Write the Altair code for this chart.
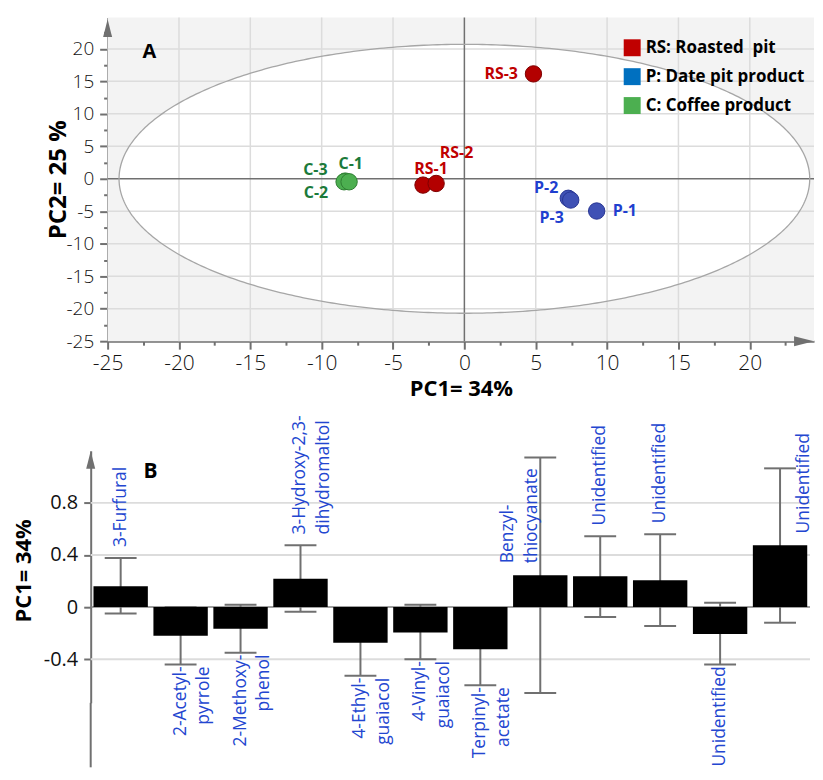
import numpy as np
import pandas as pd
import altair as alt

FONT = "Open Sans"

# ---------------- Panel A : PCA score plot ----------------
samples = ["RS-1", "RS-2", "RS-3", "P-3", "P-1", "P-2", "C-3", "C-2", "C-1"]
groups = ["RS", "RS", "RS", "P", "P", "P", "C", "C", "C"]
pc1_scores = [-2.90, -1.98, 4.84, 7.28, 9.27, 7.45, -8.35, -8.43, -8.08]
pc2_scores = [-0.97, -0.72, 16.15, -3.00, -4.96, -3.27, -0.35, -0.46, -0.46]
label_pc1 = [-2.34, -0.55, 2.58, 6.12, 11.24, 5.73, -10.44, -10.40, -7.96]
label_pc2 = [1.58, 4.00, 16.10, -6.09, -4.95, -1.49, 1.33, -2.25, 2.35]

group_keys = ["RS", "P", "C"]
group_names = ["RS: Roasted\u00a0 pit", "P: Date pit product", "C: Coffee product"]

# Hotelling T2 ellipse semi-axes
ellipse_a = 24.2
ellipse_b = 20.7

x_min, x_max = -25, 24.5
y_min, y_max = -25, 24.85
x_tick_values = list(np.arange(-25, 24, 2.5))
y_tick_values = list(np.arange(-25, 24, 2.5))
x_grid_values = [-20, -15, -10, -5, 5, 10, 15, 20]
y_grid_values = [-20, -15, -10, -5, 5, 10, 15, 20]

# ---------------- Panel B : PC1 loadings ----------------
compounds = [
    "3-Furfural", "2-Acetyl-\npyrrole", "2-Methoxy-\nphenol",
    "3-Hydroxy-2,3-\ndihydromaltol", "4-Ethyl-\nguaiacol", "4-Vinyl-\nguaiacol",
    "Terpinyl-\nacetate", "Benzyl-\nthiocyanate", "Unidentified", "Unidentified",
    "Unidentified", "Unidentified",
]
loadings = [0.16, -0.22, -0.166, 0.217, -0.273, -0.196, -0.324, 0.245, 0.237, 0.206, -0.206, 0.474]
err_low = [-0.05, 0.0, -0.35, -0.036, -0.527, -0.40, -0.60, -0.66, -0.076, -0.145, -0.44, -0.12]
err_high = [0.377, -0.44, 0.018, 0.474, -0.02, 0.018, -0.05, 1.149, 0.543, 0.56, 0.033, 1.065]
b_tick_values = [-0.4, 0, 0.4, 0.8]
b_grid_values = [-0.4, 0.4, 0.8]

# ---------------- styles ----------------
legend_colors = ["#c00000", "#0070c0", "#4caf50"]
point_fill = {"RS": "#b30000", "P": "#3f51b5", "C": "#4caf50"}
point_stroke = {"RS": "#7d0000", "P": "#283593", "C": "#2e7d32"}
label_color = {"RS": "#c00000", "P": "#1f3fcf", "C": "#1b7a3a"}
AX = "#707070"
GRID = "#dcdcdc"
A_INSET = 17          # panel A's y axis sits 17 px right of panel B's
A_WIDTH = 726

dfA = pd.DataFrame({"sample": samples, "group": groups, "x": pc1_scores, "y": pc2_scores,
                    "lx": label_pc1, "ly": label_pc2})
dfA["gname"] = dfA["group"].map(dict(zip(group_keys, group_names)))
dfA["fill_c"] = dfA["group"].map(point_fill)
dfA["stroke_c"] = dfA["group"].map(point_stroke)
dfA["label_c"] = dfA["group"].map(label_color)

t = np.linspace(0, np.pi, 241)
ell_fill = pd.DataFrame({"x": ellipse_a * np.cos(t), "y": ellipse_b * np.sin(t)})
ell_fill["y2"] = -ell_fill["y"]
t2 = np.linspace(0, 2 * np.pi, 481)
ell_line = pd.DataFrame({"x": ellipse_a * np.cos(t2), "y": ellipse_b * np.sin(t2), "o": np.arange(481)})

xsA = alt.Scale(domain=[x_min, x_max], range=[A_INSET, A_WIDTH], nice=False, zero=False)
ysA = alt.Scale(domain=[y_min, y_max], nice=False, zero=False)
tick_cond = {"condition": {"test": "datum.value % 5 === 0", "value": 8}, "value": 4}
lab_expr = "datum.value % 5 === 0 ? '' + datum.value : ''"

axA_x = alt.Axis(values=x_tick_values, labelExpr=lab_expr, grid=False, domainColor=AX, domainWidth=2,
                 tickColor=AX, tickWidth=2, tickSize=tick_cond, labelFont=FONT, labelFontSize=21,
                 labelFontWeight=300, labelColor="#111111", labelPadding=3, labelFlush=False,
                 labelOverlap=False, titleFont=FONT, titleFontSize=22, titleFontWeight="bold",
                 titleColor="black", titlePadding=6)
axA_y = alt.Axis(values=y_tick_values, labelExpr=lab_expr, grid=False, domainColor=AX, domainWidth=2,
                 tickColor=AX, tickWidth=2, tickSize=tick_cond, labelFont=FONT, labelFontSize=19,
                 labelFontWeight=300, labelColor="#111111", labelPadding=6, labelFlush=False,
                 labelOverlap=False, titleFont=FONT, titleFontSize=24, titleFontWeight="bold",
                 titleColor="black", titleX=-37, offset=-A_INSET)


def XA(f):
    return alt.X(f, scale=xsA, axis=axA_x, title="PC1= 34%")


def YA(f):
    return alt.Y(f, scale=ysA, axis=axA_y, title="PC2= 25 %")


backA = alt.Chart(pd.DataFrame({"x": [x_min], "x2": [x_max], "y": [y_min], "y2": [y_max]})).mark_rect(
    color="#f3f3f3").encode(x=XA("x:Q"), x2="x2:Q", y=YA("y:Q"), y2="y2:Q")
ell_area = alt.Chart(ell_fill).mark_area(color="white", opacity=1).encode(
    x=XA("x:Q"), y=YA("y:Q"), y2="y2:Q")
vgrid = alt.Chart(pd.DataFrame({"x": x_grid_values})).mark_rule(color=GRID, strokeWidth=1.5).encode(x=XA("x:Q"))
hgrid = alt.Chart(pd.DataFrame({"y": y_grid_values, "x": x_min, "x2": x_max})).mark_rule(
    color=GRID, strokeWidth=1.5).encode(y=YA("y:Q"), x=XA("x:Q"), x2="x2:Q")
vzero = alt.Chart(pd.DataFrame({"x": [0]})).mark_rule(color=AX, strokeWidth=1.5).encode(x=XA("x:Q"))
hzero = alt.Chart(pd.DataFrame({"y": [0], "x": [x_min], "x2": [x_max]})).mark_rule(
    color=AX, strokeWidth=1.5).encode(y=YA("y:Q"), x=XA("x:Q"), x2="x2:Q")
ell_outline = alt.Chart(ell_line).mark_line(color="#a6a6a6", strokeWidth=1.3).encode(
    x=XA("x:Q"), y=YA("y:Q"), order="o:Q")

legend_layer = alt.Chart(dfA).mark_square(opacity=0).encode(
    x=XA("x:Q"), y=YA("y:Q"),
    color=alt.Color("gname:N", scale=alt.Scale(domain=group_names, range=legend_colors),
                    legend=alt.Legend(title=None, orient="none", legendX=535, legendY=22,
                                      symbolType="square", symbolSize=289, symbolOpacity=1,
                                      symbolStrokeWidth=0, labelFont=FONT, labelFontSize=17,
                                      labelFontWeight="bold", labelColor="black", rowPadding=11,
                                      labelOffset=5, padding=0)))
points = alt.Chart(dfA).mark_circle(size=270, opacity=1, strokeWidth=1).encode(
    x=XA("x:Q"), y=YA("y:Q"),
    fill=alt.Fill("fill_c:N", scale=None), stroke=alt.Stroke("stroke_c:N", scale=None))
point_labels = alt.Chart(dfA).mark_text(font=FONT, fontSize=16, fontWeight="bold").encode(
    x=XA("lx:Q"), y=YA("ly:Q"), text="sample:N", color=alt.Color("label_c:N", scale=None))

arrow_up = "M0,-1 L0.5,1 L-0.5,1 Z"
arrow_right = "M1,0 L-1,0.5 L-1,-0.5 Z"
y_arrow = alt.Chart(pd.DataFrame({"x": [x_min], "y": [23.2]})).mark_point(
    shape=arrow_up, filled=True, size=324, color=AX, opacity=1).encode(x=XA("x:Q"), y=YA("y:Q"))
x_arrow = alt.Chart(pd.DataFrame({"x": [23.8], "y": [y_min]})).mark_point(
    shape=arrow_right, filled=True, size=400, color=AX, opacity=1).encode(x=XA("x:Q"), y=YA("y:Q"))
tag_a = alt.Chart(pd.DataFrame({"x": [-22.07], "y": [19.5], "t": ["A"]})).mark_text(
    font=FONT, fontSize=20, fontWeight="bold", color="black").encode(x=XA("x:Q"), y=YA("y:Q"), text="t:N")

panelA = alt.layer(backA, ell_area, vgrid, hgrid, vzero, hzero, ell_outline, legend_layer, points,
                   point_labels, y_arrow, x_arrow, tag_a).properties(
    width=A_WIDTH, height=325, view=alt.ViewBackground(stroke=None))

# ---------------- Panel B ----------------
dfB = pd.DataFrame({"idx": np.arange(len(compounds)), "name": compounds, "value": loadings,
                    "lo": err_low, "hi": err_high})
dfB["lo"], dfB["hi"] = np.minimum(dfB["lo"], dfB["hi"]), np.maximum(dfB["lo"], dfB["hi"])

xsB = alt.Scale(paddingInner=0.093, paddingOuter=0.0465)
ysB = alt.Scale(domain=[-0.735, 1.2], nice=False, zero=False)
axB_y = alt.Axis(values=b_tick_values,
                 labelExpr="datum.value === 0 ? '0' : (datum.value < 0 ? '-' : '') + format(abs(datum.value), '.1f')",
                 grid=False, domainColor=AX, domainWidth=2, tickColor=AX, tickWidth=2, tickSize=7,
                 labelFont=FONT, labelFontSize=20, labelColor="#111111", labelPadding=6,
                 titleFont=FONT, titleFontSize=22, titleFontWeight="bold", titleColor="black",
                 titleX=-55, titleY=120)


def XB(f="idx:O"):
    return alt.X(f, scale=xsB, axis=None)


def YB(f):
    return alt.Y(f, scale=ysB, axis=axB_y, title="PC1= 34%")


baseB = alt.Chart(dfB)
gridB = alt.Chart(pd.DataFrame({"y": b_grid_values})).mark_rule(color=GRID, strokeWidth=2).encode(y=YB("y:Q"))
zeroB = alt.Chart(pd.DataFrame({"y": [0]})).mark_rule(color="#808080", strokeWidth=1.5).encode(y=YB("y:Q"))
err_rule = baseB.mark_rule(color=AX, strokeWidth=2).encode(x=XB(), y=YB("lo:Q"), y2="hi:Q")
cap_lo = baseB.mark_tick(size=32, thickness=2, color=AX, opacity=1).encode(x=XB(), y=YB("lo:Q"))
cap_hi = baseB.mark_tick(size=32, thickness=2, color=AX, opacity=1).encode(x=XB(), y=YB("hi:Q"))
bars = baseB.mark_bar(color="black").encode(x=XB(), y=YB("value:Q"), y2=alt.datum(0))

LBL = dict(font=FONT, fontSize=17.5, color="#2346d0", angle=270, baseline="middle", lineBreak="\n", lineHeight=24)
lab_pos = baseB.transform_filter("datum.value > 0 && datum.hi < 0.8").mark_text(
    align="left", dx=11, **LBL).encode(x=XB(), y=YB("hi:Q"), text="name:N")
lab_neg = baseB.transform_filter("datum.value < 0").mark_text(
    align="right", dx=-2, **LBL).encode(x=XB(), y=YB("lo:Q"), text="name:N")
SIDE_NUDGE = {7: -32, 11: 24}
lab_side = [baseB.transform_filter(f"datum.idx === {i}").mark_text(
    align="left", dx=12, dy=d, **LBL).encode(x=XB(), y=YB("value:Q"), text="name:N")
    for i, d in SIDE_NUDGE.items()]

b_arrow = alt.Chart(pd.DataFrame({"y": [1.13]})).mark_point(
    shape=arrow_up, filled=True, size=324, color=AX, opacity=1).encode(x=alt.value(0), y=YB("y:Q"))
b_axis_ext = alt.Chart(pd.DataFrame({"y": [-0.735], "y2": [-1.23]})).mark_rule(
    color=AX, strokeWidth=2).encode(x=alt.value(0), y=YB("y:Q"), y2="y2:Q")
tag_b = alt.Chart(pd.DataFrame({"y": [1.04], "t": ["B"]})).mark_text(
    font=FONT, fontSize=21, fontWeight="bold", color="black").encode(x=alt.value(60), y=YB("y:Q"), text="t:N")
spacer = alt.Chart(pd.DataFrame({"t": ["."]})).mark_text(opacity=0, fontSize=2).encode(
    x=alt.value(-76), y=alt.value(0), text="t:N")

panelB = alt.layer(gridB, zeroB, err_rule, cap_lo, cap_hi, bars, lab_pos, lab_neg, *lab_side,
                   b_arrow, b_axis_ext, tag_b, spacer).properties(
    width=722, height=253, view=alt.ViewBackground(stroke=None))

chart = alt.vconcat(panelA, panelB, spacing=15).properties(
    padding={"left": 5, "top": 7, "right": 0, "bottom": 0}
).configure_view(stroke=None)

chart.save("out.html", embed_options={"renderer": "svg", "actions": False})
